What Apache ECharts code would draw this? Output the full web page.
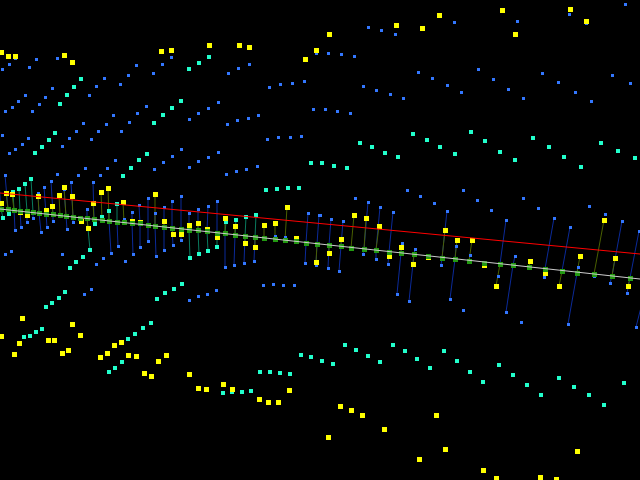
<!DOCTYPE html>
<html><head><meta charset="utf-8">
<style>html,body{margin:0;padding:0;background:#000}#c{width:640px;height:480px}</style>
<script src="https://cdn.jsdelivr.net/npm/echarts@6/dist/echarts.min.js"></script></head>
<body><div id="c"></div>
<script>
const yellowPoints=[[1,52],[8,56],[15,56],[64,55],[72,62],[161,51],[171,50],[209,45],[239,45],[249,47],[305,59],[316,50],
[329,34],[396,25],[422,28],[439,15],[502,10],[515,34],[570,9],[586,21],
[1,203],[6,193],[12,194],[38,196],[64,187],[59,195],[72,196],[52,206],[46,210],[27,215],[20,212],[101,192],[108,188],[93,203],[123,202],[155,194],[81,221],[88,228],[132,221],[140,222],[148,225],
[164,221],[173,234],[181,234],[189,225],[198,223],[207,229],[217,237],[225,218],[235,226],[245,243],[255,247],[264,225],[275,223],[287,207],[296,238],[306,243],[316,262],
[354,215],[366,218],[379,226],[341,239],[329,253],[389,256],[401,247],[413,264],[428,257],[445,230],[457,240],[472,240],
[484,265],[496,286],[513,265],[530,261],[545,273],[559,286],[580,256],[604,220],[615,258],[628,286],
[22,318],[1,336],[19,343],[14,354],[72,324],[80,335],[48,340],[54,340],[62,353],[68,350],[114,345],[121,342],[100,357],[107,353],[128,355],[136,356],[158,361],[166,355],[144,373],[151,376],[189,374],[198,388],[206,389],[223,384],[232,389],[259,399],[268,402],[278,402],[289,390],
[340,406],[351,410],[362,415],[328,437],[384,429],[436,415],[445,449],[419,459],[483,470],[496,478],[540,477],[556,479],[577,451]];
const cyanPoints=[[81,79],[74,87],[67,95],[60,104],[209,57],[199,63],[189,69],[181,101],[172,108],[163,115],[154,123],[55,133],[49,140],[42,147],[35,153],[147,154],[139,160],
[360,143],[372,147],[385,153],[398,157],[413,134],[427,140],[440,147],[455,154],[471,132],[485,141],[500,152],[515,160],[533,138],[549,147],[564,157],[601,143],[618,151],[635,158],
[31,179],[25,184],[19,189],[13,192],[131,168],[123,176],[117,204],[109,211],[102,217],[95,224],[9,214],[3,218],[90,250],[83,257],[76,262],[70,268],
[311,163],[266,190],[277,189],[288,188],[299,188],[226,222],[236,220],[246,217],[256,215],[190,258],[199,254],[208,251],[217,247],[322,163],[334,166],[347,168],[581,167],
[65,292],[59,298],[52,303],[46,307],[182,284],[174,289],[165,293],[157,299],[42,329],[36,332],[30,336],[24,337],[151,323],[143,328],[135,334],[128,339],[122,362],[115,368],[109,372],
[301,355],[311,357],[260,372],[270,372],[280,373],[290,374],[223,393],[232,392],[242,392],[251,391],
[322,361],[333,364],[345,345],[356,350],[368,356],[380,362],[393,345],[405,351],[417,359],[430,368],[444,351],[457,361],[470,372],[483,382],[499,365],[513,375],[527,385],[541,395],[559,378],[574,387],[589,395],[604,405],[624,383]];
const bluePoints=[[36,59],[57,58],[9,64],[2,69],[29,67],[15,58],[52,88],[25,95],[45,97],[18,101],[39,104],[12,107],[5,111],[32,111],
[136,65],[162,64],[171,57],[128,75],[153,73],[104,78],[120,84],[96,86],[89,95],[228,73],[238,68],[249,64],[269,87],[280,84],[292,83],[304,81],[316,53],[313,109],
[218,102],[208,108],[198,113],[189,119],[146,106],[137,113],[129,122],[121,131],[113,115],[106,124],[98,131],[91,139],[83,123],[76,131],[69,138],[62,146],[28,138],[22,144],[15,149],[9,153],[2,135],
[227,124],[237,120],[248,118],[258,115],[267,139],[278,137],[290,137],[301,136],[181,149],[172,156],[218,152],[208,157],[115,160],
[368,27],[381,30],[395,34],[454,22],[517,21],[569,14],[586,23],[625,4],[328,53],[341,54],[354,56],[418,72],[432,78],[447,85],[461,92],[478,69],[493,79],[508,89],[523,98],[542,73],[558,82],[575,92],[591,101],[612,75],[630,83],[363,86],[376,90],[390,94],[403,98],[325,109],[337,111],[350,113],
[5,175],[57,174],[85,168],[107,168],[78,175],[100,175],[154,169],[44,187],[51,181],[71,182],[93,182],[38,193],[64,189],[148,198],[139,205],[132,212],[87,209],[155,213],[124,219],
[15,230],[21,227],[27,222],[33,218],[41,232],[47,227],[53,221],[67,229],[73,222],[118,246],[111,253],[148,241],[140,247],[133,254],[156,256],[125,261],[103,258],[96,264],[62,254],[11,251],[5,254],
[163,162],[189,167],[198,161],[226,174],[236,171],[246,169],[257,166],[181,196],[172,201],[164,207],[198,209],[189,213],[208,206],[217,201],[308,213],[319,215],[164,250],[173,245],[181,240],[225,267],[234,265],[244,263],[254,261],[305,263],[316,265],[275,236],[285,237],
[320,215],[331,219],[343,221],[355,198],[368,202],[380,207],[393,212],[407,190],[420,196],[434,203],[463,190],[477,200],[447,211],[328,268],[339,271],[363,254],[376,259],[388,264],[397,294],[409,301],[402,243],[415,249],[441,265],[450,299],[456,246],[470,255],[463,310],
[491,210],[523,198],[538,208],[589,206],[605,214],[506,220],[554,218],[570,227],[622,221],[639,231],[515,256],[498,276],[544,277],[578,267],[594,276],[610,283],[627,293],[506,312],[521,322],[568,324],[636,327],
[84,294],[91,289],[189,300],[198,296],[207,294],[216,290],[263,285],[273,284],[283,285],[294,285]];
const basePoints=[[1,209],[8,209],[14,210],[20,211],[27,211],[33,212],[39,213],[46,214],[53,214],[60,215],[66,216],[73,217],[80,218],[87,218],[94,219],[102,220],[109,221],[117,222],[124,222],[132,223],[140,223],[148,225],[155,226],
[164,227],[172,228],[181,229],[189,230],[198,230],[207,231],[217,233],[225,233],[235,235],[245,236],[255,237],[264,238],[275,239],[285,240],[296,241],[306,243],[317,244],
[329,245],[341,246],[351,248],[364,249],[376,250],[389,252],[401,253],[414,254],[428,256],[442,258],[455,259],[469,261],
[484,263],[500,264],[513,265],[529,267],[545,269],[562,271],[577,273],[594,274],[612,276],[630,278]];
const yellowStems=[[1,203,1,209],[6,193,8,209],[12,194,14,210],[20,212,20,211],[27,215,27,211],[38,196,39,213],[46,210,46,214],[52,206,53,214],[59,195,60,215],[64,187,66,216],[72,196,73,217],[81,221,80,218],[88,228,87,218],[93,203,94,219],[101,192,102,220],[108,188,109,221],[123,202,124,222],[132,221,132,223],[140,222,140,223],[155,194,155,226],
[164,221,164,227],[173,234,172,228],[181,234,181,229],[189,225,189,230],[198,223,198,230],[207,229,207,231],[217,237,217,233],[225,218,225,233],[235,226,235,235],[245,243,245,236],[255,247,255,237],[264,225,264,238],[275,223,275,239],[287,207,285,240],[296,238,296,241],[316,262,317,244],
[329,253,329,245],[341,239,341,246],[354,215,351,248],[366,218,364,249],[379,226,376,250],[389,256,389,252],[401,247,401,253],[413,264,414,254],[445,230,442,258],[457,240,455,259],[472,240,469,261],
[496,286,500,264],[530,261,529,267],[545,273,545,269],[559,286,562,271],[580,256,577,273],[604,220,594,274],[615,258,612,276],[628,286,630,278]];
const cyanStems=[[3,218,1,209],[9,214,8,209],[13,192,14,210],[19,189,20,211],[25,184,27,211],[31,179,33,212],[90,250,87,218],[95,224,94,219],[102,217,102,220],[109,211,109,221],[117,204,117,222],
[190,258,189,230],[199,254,198,230],[208,251,207,231],[217,247,217,233],[226,222,225,233],[236,220,235,235],[246,217,245,236],[256,215,255,237]];
const blueStems=[[-2,170,1,209],[5,175,8,209],[15,230,14,210],[21,227,20,211],[27,222,27,211],[33,218,33,212],[38,193,39,213],[41,232,39,213],[44,187,46,214],[47,227,46,214],[51,181,53,214],[53,221,53,214],[64,189,66,216],[67,229,66,216],[71,182,73,217],[73,222,73,217],[87,209,87,218],[93,182,94,219],[111,253,109,221],[118,246,117,222],[124,219,124,222],[132,212,132,223],[133,254,132,223],[139,205,140,223],[140,247,140,223],[148,198,148,225],[148,241,148,225],[155,213,155,226],[156,256,155,226],
[164,207,164,227],[164,250,164,227],[172,201,172,228],[173,245,172,228],[181,196,181,229],[181,240,181,229],[189,213,189,230],[198,209,198,230],[208,206,207,231],[217,201,217,233],[225,267,225,233],[234,265,235,235],[244,263,245,236],[254,261,255,237],[275,236,275,239],[285,237,285,240],[308,213,306,243],[305,263,306,243],[319,215,317,244],[316,265,317,244],
[331,219,329,245],[328,268,329,245],[343,221,341,246],[339,271,341,246],[368,202,364,249],[363,254,364,249],[380,207,376,250],[376,259,376,250],[393,212,389,252],[388,264,389,252],[402,243,401,253],[397,294,401,253],[415,249,414,254],[409,301,414,254],[447,211,442,258],[441,265,442,258],[456,246,455,259],[450,299,455,259],[470,255,469,261],
[506,220,500,264],[515,256,513,265],[506,312,513,265],[554,218,545,269],[544,277,545,269],[570,227,562,271],[578,267,577,273],[568,324,577,273],[594,276,594,274],[622,221,612,276],[610,283,612,276],[639,231,630,278],[627,293,630,278],[636,327,648,280]];
const redLine=[[0,193],[640,254]];
const grayLine=[[0,209],[640,279]];

function stemData(rows){const out=[];rows.forEach(r=>{out.push([r[0],r[1]],[r[2],r[3]],['-','-']);});return out;}
function stemSeries(rows,color,z){return {type:'line',z:z,data:stemData(rows),symbol:'none',connectNulls:false,silent:true,animation:false,lineStyle:{color:color,width:1}};}
function dots(pts,size,color,off,z){return {type:'scatter',z:z,data:pts,symbol:'rect',symbolSize:size,symbolOffset:[off,off],silent:true,animation:false,itemStyle:{color:color,opacity:1}};}
function straight(pts,color,z){return {type:'line',z:z,data:pts,symbol:'none',silent:true,animation:false,lineStyle:{color:color,width:1}};}

const chart=echarts.init(document.getElementById('c'));
chart.setOption({
  backgroundColor:'#000000',animation:false,
  grid:{left:0,right:0,top:0,bottom:0},
  xAxis:{type:'value',min:0,max:640,show:false},
  yAxis:{type:'value',min:0,max:480,inverse:true,show:false},
  series:[
    stemSeries(blueStems,'#0b2a99',1),
    stemSeries(cyanStems,'#0a7a5e',2),
    stemSeries(yellowStems,'#4a6000',3),
    dots(bluePoints,3,'#3377ff',0.5,4),
    dots(cyanPoints,4,'#22ffcc',0,5),
    dots(yellowPoints,5,'#ffff00',0.5,6),
    dots(basePoints,5,'#229911',0.5,7),
    straight(grayLine,'#cccccc',8),
    straight(redLine,'#ff0000',9)
  ]
});
</script></body></html>
